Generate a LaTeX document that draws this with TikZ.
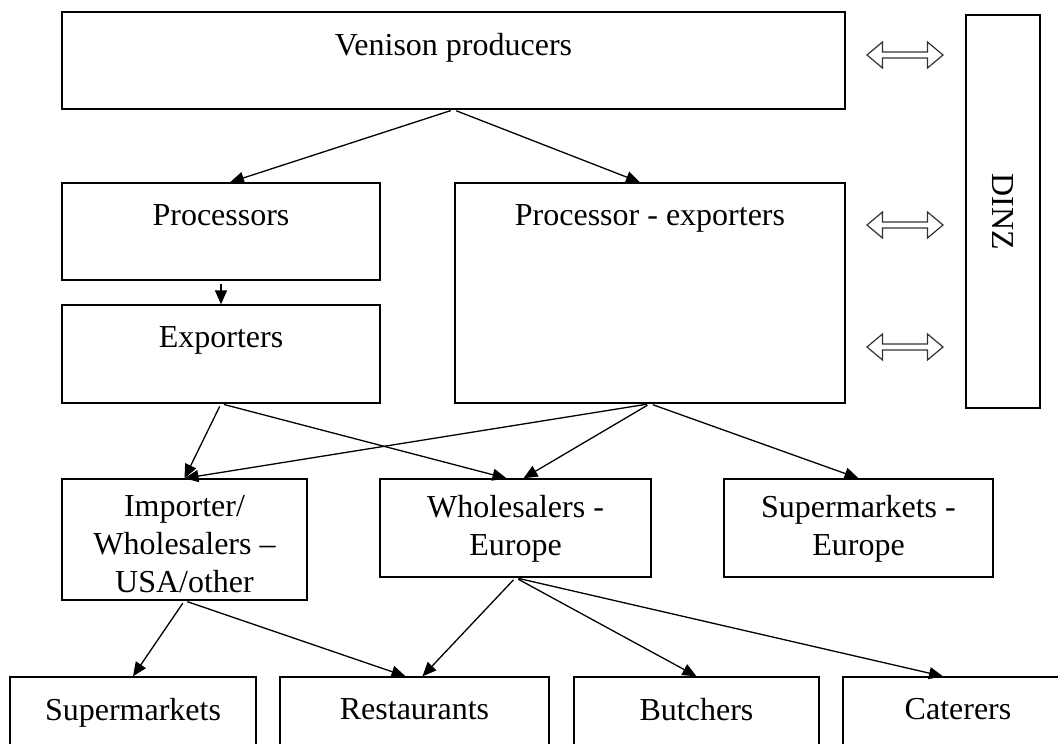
\documentclass[tikz,border=0pt]{standalone}
\usepackage{fontspec}
\setmainfont{Liberation Serif}
\usetikzlibrary{arrows.meta,shapes.arrows}

\begin{document}
\begin{tikzpicture}[x=1pt,y=-1pt,
  box/.style={draw, line width=1.4pt, inner sep=0pt},
  txt/.style={font=\fontsize{32}{38}\selectfont, align=center, anchor=north, inner sep=0pt, yshift=-22pt},
  txtb/.style={txt, yshift=5pt},
  flow/.style={line width=1.3pt, -{Triangle[length=14pt,width=12pt]}, shorten <=3pt},
  link/.style={double arrow, draw=black!80, line width=1.2pt, minimum height=76pt, minimum width=26pt,
    double arrow head extend=2pt, double arrow tip angle=80, inner sep=0pt}]
\useasboundingbox (0,0) rectangle (1058,744);
\clip (0,0) rectangle (1058,744);
% top row
\node[box, minimum width=783pt, minimum height=97pt, label={[txt]north:Venison producers}] (ven) at (453.5,60.5){};
\node[box, rotate=-90, minimum width=393pt, minimum height=74pt, font=\fontsize{32}{38}\selectfont] (dinz) at (1003,211.5){DINZ};
\node[link] (lnk1) at (905,55){};
\node[link] (lnk2) at (905,225){};
\node[link] (lnk3) at (905,347){};
% processing
\node[box, minimum width=318pt, minimum height=97pt, label={[txt]north:Processors}] (proc) at (221,231.5){};
\node[box, minimum width=318pt, minimum height=98pt, label={[txt]north:Exporters}] (expo) at (221,354){};
\node[box, minimum width=390pt, minimum height=220pt, label={[txt]north:Processor - exporters}] (pexp) at (650,293){};
\draw[flow](ven.south) -- ([xshift=9pt]proc.north);
\draw[flow](ven.south) -- ([xshift=-10pt]pexp.north);
\draw[flow](proc.south) -- (expo.north);
% importers and wholesalers
\node[box, minimum width=245pt, minimum height=121pt, label={[txtb]north:Importer/\\Wholesalers --\\USA/other}] (imp) at (184.5,539.5){};
\node[box, minimum width=271pt, minimum height=98pt, label={[txtb]north:Wholesalers -\\Europe}] (whole) at (515.5,528){};
\node[box, minimum width=269pt, minimum height=98pt, label={[txtb]north:Supermarkets -\\Europe}] (supeu) at (858.5,528){};
\draw[flow](expo.south) -- (imp.north);
\draw[flow](expo.south) -- ([xshift=-9pt]whole.north);
\draw[flow](pexp.south) -- (imp.north);
\draw[flow](pexp.south) -- ([xshift=8pt]whole.north);
\draw[flow](pexp.south) -- (supeu.north);
% outlets
\node[box, minimum width=246pt, minimum height=113pt, label={[txt]north:Supermarkets}] (superm) at (133,733.5){};
\node[box, minimum width=269pt, minimum height=113pt, label={[txt]north:Restaurants}] (rest) at (414.5,733.5){};
\node[box, minimum width=245pt, minimum height=113pt, label={[txt]north:Butchers}] (butch) at (696.5,733.5){};
\node[box, minimum width=230pt, minimum height=113pt, label={[txt]north:Caterers}] (cater) at (958,733.5){};
\draw[flow](imp.south) -- (superm.north);
\draw[flow](imp.south) -- ([xshift=-9pt]rest.north);
\draw[flow](whole.south) -- ([xshift=8pt]rest.north);
\draw[flow](whole.south) -- (butch.north);
\draw[flow](whole.south) -- ([xshift=-15pt]cater.north);
\end{tikzpicture}
\end{document}
